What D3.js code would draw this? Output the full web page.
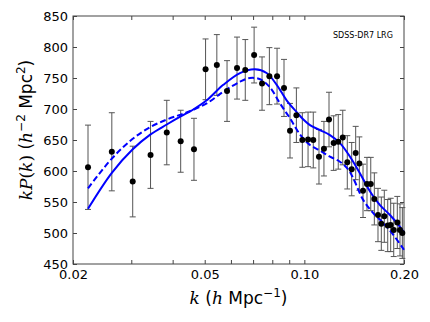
<!DOCTYPE html>
<html>
<head>
<meta charset="utf-8">
<script src="https://cdn.jsdelivr.net/npm/d3@7"></script>
<style>
body { margin: 0; background: #fff; }
text { font-family: "DejaVu Sans", sans-serif; }
</style>
</head>
<body>
<div id="chart"></div>
<script>
// measured band powers
var kData = [0.0222,0.0262,0.0303,0.0343,0.0384,0.0423,0.0464,0.0503,0.0544,0.0584,0.0626,0.0663,0.0705,0.0745,0.0784,0.0827,0.0868,0.0905,0.0946,0.0986,0.1026,0.1064,0.1107,0.1146,0.1187,0.1226,0.1266,0.1306,0.1348,0.1390,0.1429,0.1466,0.1504,0.1546,0.1587,0.1627,0.1669,0.1708,0.1744,0.1786,0.1823,0.1862,0.1909,0.1945,0.1977];
var kpData = [606,631,583,626,662,648,635,764,771,729,766,763,787,741,753,753,734,665,690,650,651,650,623,636,683,645,647,654,614,603,629,612,568,579,579,555,529,515,527,512,513,505,517,505,500];
var kpErr = [68,63,57,54,52,50,50,49,49,49,50,49,45,43,46,45,46,44,44,44,44,45,44,44,44,44,44,44,43,43,43,43,43,43,43,42,43,43,42,42,43,43,42,42,41];

// model curves
var kSolid = [0.0222,0.0262,0.0303,0.0343,0.0384,0.0423,0.0458,0.0507,0.0569,0.0639,0.0709,0.0769,0.0825,0.0884,0.0948,0.0993,0.1040,0.1115,0.1195,0.1281,0.1374,0.1473,0.1579,0.1692,0.1814,0.1945,0.2];
var kpSolid = [539,597,635,659,675,688,698,714,739,758,764,758,739,714,695,683,674,666,658,645,623,596,567,545,529,510,501];
var kDashed = [0.0222,0.0262,0.0303,0.0343,0.0384,0.0423,0.0458,0.0507,0.0569,0.0639,0.0685,0.0735,0.0787,0.0844,0.0905,0.0970,0.1040,0.1115,0.1195,0.1281,0.1358,0.1406,0.1507,0.1615,0.1732,0.1857,0.2];
var kpDashed = [572,620,652,671,683,691,698,709,728,744,750,748,735,709,685,659,642,633,623,615,602,588,553,532,516,497,473];

var xTicks = [0.02,0.03,0.04,0.05,0.06,0.07,0.08,0.09,0.1,0.2];
var xTickLabels = {0.02: "0.02", 0.05: "0.05", 0.1: "0.10", 0.2: "0.20"};
var yTicks = [450,500,550,600,650,700,750,800,850];

var margin = { top: 16, right: 26, bottom: 58, left: 73 }
    ,width = 430 - margin.left - margin.right
    ,height = 322 - margin.top - margin.bottom
    ,lineColor = '#0000ff'
    ,frameColor = '#444';

var svg = d3.select("#chart")
    .append("svg")
    .attr("width", 430)
    .attr("height", 322)
    .append("g")
    .attr("transform", "translate(" + margin.left + "," + margin.top + ")");

var x = d3.scaleLog()
    .domain([0.02, 0.2])
    .range([0, width]);

var y = d3.scaleLinear()
    .domain([450, 850])
    .range([height, 0]);

// axes, ticks pointing inwards
function styleAxis(g) {
    g.select(".domain").remove();
    g.selectAll(".tick line").attr("stroke", frameColor);
    g.selectAll(".tick text").attr("fill", "#000").style("font-size", "13px");
}

svg.append("g")
    .attr("transform", "translate(0," + height + ")")
    .call(d3.axisBottom(x).tickValues(xTicks).tickSizeInner(-4).tickSizeOuter(0).tickPadding(6)
        .tickFormat(function(d) { return xTickLabels[d] || ""; }))
    .call(styleAxis);

svg.append("g")
    .call(d3.axisTop(x).tickValues(xTicks).tickSizeInner(-4).tickSizeOuter(0).tickFormat(""))
    .call(styleAxis);

svg.append("g")
    .call(d3.axisLeft(y).tickValues(yTicks).tickSizeInner(-4).tickSizeOuter(0).tickPadding(5)
        .tickFormat(d3.format("d")))
    .call(styleAxis);

svg.append("g")
    .attr("transform", "translate(" + width + ",0)")
    .call(d3.axisRight(y).tickValues(yTicks).tickSizeInner(-4).tickSizeOuter(0).tickFormat(""))
    .call(styleAxis);

svg.append("rect")
    .attr("width", width)
    .attr("height", height)
    .attr("fill", "none")
    .attr("stroke", frameColor)
    .attr("stroke-width", 1);

var plot = svg.append("g");

// error bars
var points = kData.map(function(k, i) { return { k: k, v: kpData[i], e: kpErr[i] }; });

var bars = plot.selectAll(".err")
    .data(points)
    .enter()
    .append("g")
    .attr("class", "err")
    .attr("stroke", "#555")
    .attr("stroke-width", 1);

bars.append("line")
    .attr("x1", function(d) { return x(d.k); })
    .attr("x2", function(d) { return x(d.k); })
    .attr("y1", function(d) { return y(d.v - d.e); })
    .attr("y2", function(d) { return y(d.v + d.e); });

[-1, 1].forEach(function(s) {
    bars.append("line")
        .attr("x1", function(d) { return x(d.k) - 3; })
        .attr("x2", function(d) { return x(d.k) + 3; })
        .attr("y1", function(d) { return y(d.v + s * d.e); })
        .attr("y2", function(d) { return y(d.v + s * d.e); });
});

// model lines
var line = d3.line()
    .x(function(d) { return x(d[0]); })
    .y(function(d) { return y(d[1]); })
    .curve(d3.curveCatmullRom.alpha(0.5));

plot.append("path")
    .datum(kDashed.map(function(k, i) { return [k, kpDashed[i]]; }))
    .attr("d", line)
    .attr("fill", "none")
    .attr("stroke", lineColor)
    .attr("stroke-width", 2)
    .attr("stroke-dasharray", "6,3");

plot.append("path")
    .datum(kSolid.map(function(k, i) { return [k, kpSolid[i]]; }))
    .attr("d", line)
    .attr("fill", "none")
    .attr("stroke", lineColor)
    .attr("stroke-width", 2);

plot.selectAll(".dot")
    .data(points)
    .enter()
    .append("circle")
    .attr("class", "dot")
    .attr("cx", function(d) { return x(d.k); })
    .attr("cy", function(d) { return y(d.v); })
    .attr("r", 3)
    .attr("fill", "#000");

// labels
svg.append("text")
    .attr("x", 260)
    .attr("y", 22)
    .style("font-size", "8px")
    .text("SDSS-DR7 LRG");

var xlab = svg.append("text")
    .attr("x", width / 2)
    .attr("y", height + 40)
    .attr("text-anchor", "middle")
    .style("font-size", "17px");
xlab.append("tspan").style("font-family", "DejaVu Serif").style("font-style", "italic").text("k");
xlab.append("tspan").text(" (");
xlab.append("tspan").style("font-family", "DejaVu Serif").style("font-style", "italic").text("h");
xlab.append("tspan").text(" Mpc");
xlab.append("tspan").attr("dy", -7).style("font-size", "12px").text("\u22121");
xlab.append("tspan").attr("dy", 7).text(")");

var ylab = svg.append("text")
    .attr("transform", "translate(" + (32 - margin.left) + "," + (130 - margin.top) + ") rotate(-90)")
    .attr("text-anchor", "middle")
    .style("font-size", "17px");
ylab.append("tspan").style("font-family", "DejaVu Serif").style("font-style", "italic").text("kP");
ylab.append("tspan").style("font-family", "DejaVu Serif").text("(");
ylab.append("tspan").style("font-family", "DejaVu Serif").style("font-style", "italic").text("k");
ylab.append("tspan").style("font-family", "DejaVu Serif").text(")");
ylab.append("tspan").text(" (");
ylab.append("tspan").style("font-family", "DejaVu Serif").style("font-style", "italic").text("h");
ylab.append("tspan").attr("dy", -7).style("font-size", "12px").text("\u22122");
ylab.append("tspan").attr("dy", 7).text(" Mpc");
ylab.append("tspan").attr("dy", -7).style("font-size", "12px").text("2");
ylab.append("tspan").attr("dy", 7).text(")");
</script>
</body>
</html>
